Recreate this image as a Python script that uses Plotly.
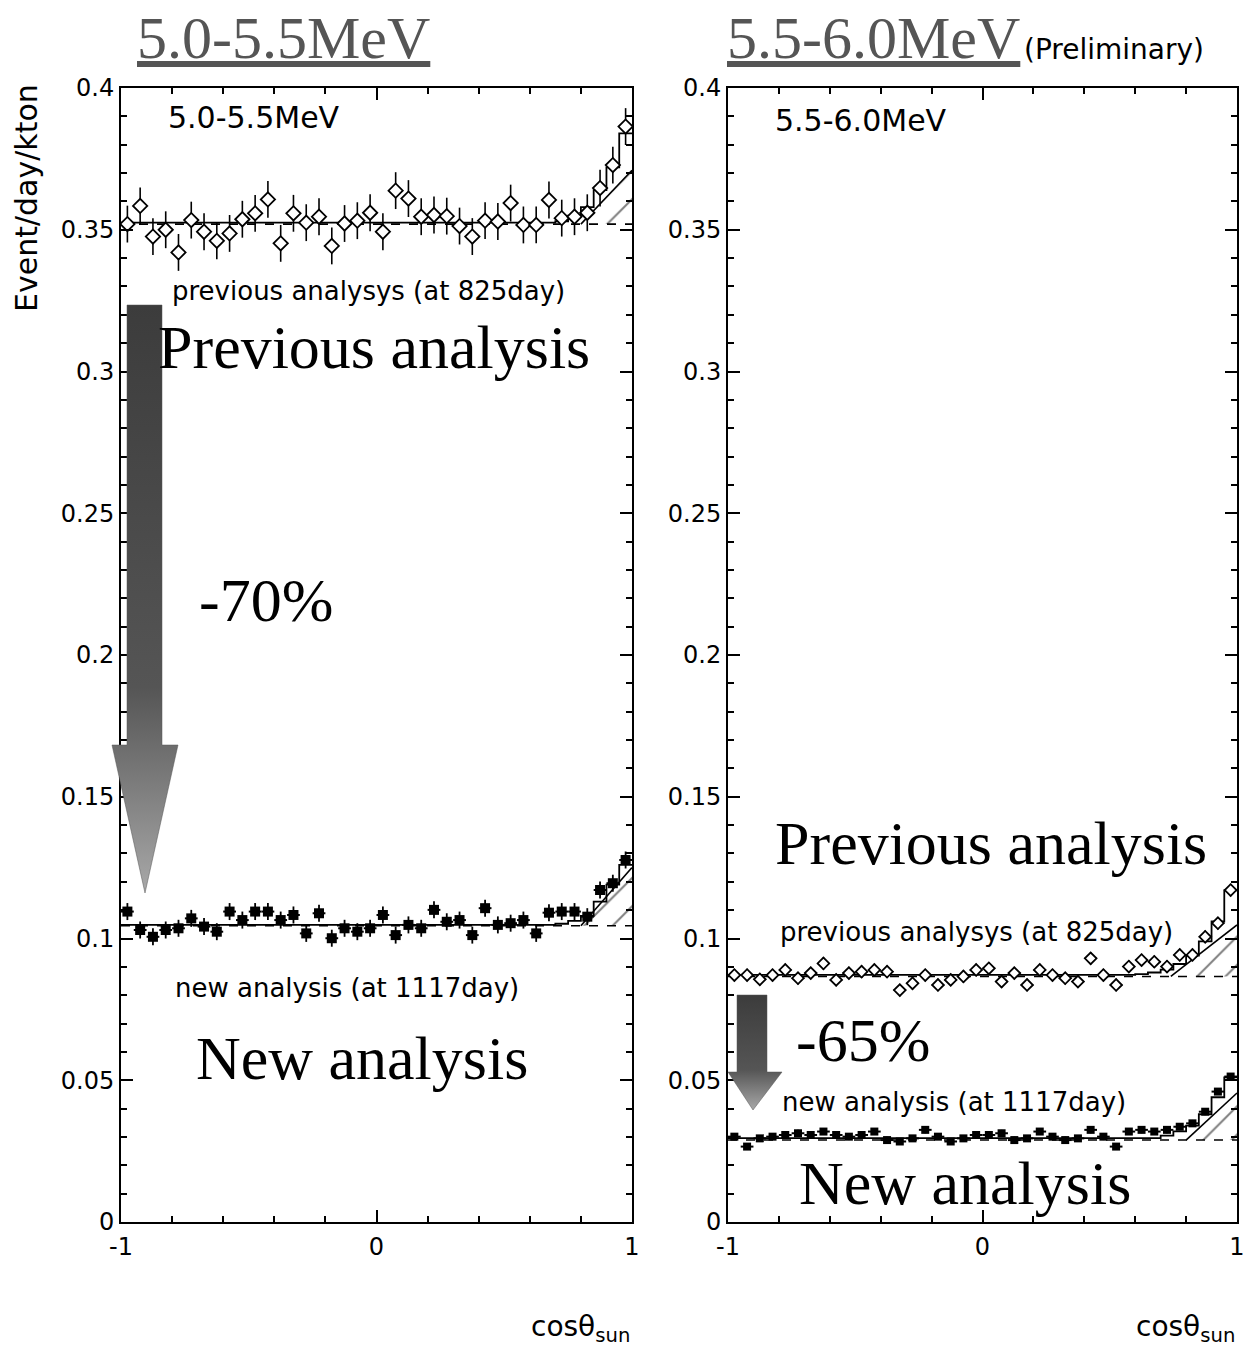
import plotly.graph_objects as go

# ---------------- data ----------------
cos_bins = [-0.975, -0.925, -0.875, -0.825, -0.775, -0.725, -0.675, -0.625, -0.575, -0.525,
            -0.475, -0.425, -0.375, -0.325, -0.275, -0.225, -0.175, -0.125, -0.075, -0.025,
            0.025, 0.075, 0.125, 0.175, 0.225, 0.275, 0.325, 0.375, 0.425, 0.475,
            0.525, 0.575, 0.625, 0.675, 0.725, 0.775, 0.825, 0.875, 0.925, 0.975]

left_prev = [0.3520, 0.3584, 0.3476, 0.3500, 0.3420, 0.3534, 0.3493, 0.3461, 0.3487, 0.3537,
             0.3558, 0.3607, 0.3452, 0.3558, 0.3525, 0.3546, 0.3443, 0.3522, 0.3532, 0.3560,
             0.3493, 0.3638, 0.3610, 0.3546, 0.3552, 0.3548, 0.3513, 0.3476, 0.3532, 0.3529,
             0.3594, 0.3517, 0.3517, 0.3605, 0.3541, 0.3546, 0.3560, 0.3647, 0.3728, 0.3864]
left_new = [0.1095, 0.1030, 0.1006, 0.1030, 0.1036, 0.1071, 0.1042, 0.1024, 0.1095, 0.1065,
            0.1095, 0.1095, 0.1065, 0.1083, 0.1018, 0.1089, 0.1001, 0.1036, 0.1024, 0.1036,
            0.1083, 0.1012, 0.1048, 0.1036, 0.1101, 0.1059, 0.1065, 0.1012, 0.1107, 0.1048,
            0.1054, 0.1065, 0.1018, 0.1091, 0.1095, 0.1095, 0.1077, 0.1171, 0.1195, 0.1277]
right_prev = [0.0871, 0.0871, 0.0856, 0.0871, 0.0889, 0.0860, 0.0878, 0.0912, 0.0854, 0.0878,
              0.0883, 0.0889, 0.0883, 0.0818, 0.0842, 0.0871, 0.0836, 0.0854, 0.0866, 0.0889,
              0.0895, 0.0848, 0.0878, 0.0836, 0.0889, 0.0871, 0.0860, 0.0848, 0.0930, 0.0871,
              0.0836, 0.0901, 0.0924, 0.0918, 0.0901, 0.0942, 0.0942, 0.1006, 0.1054, 0.1171]
right_new = [0.0301, 0.0266, 0.0295, 0.0301, 0.0307, 0.0313, 0.0307, 0.0319, 0.0307, 0.0301,
             0.0307, 0.0319, 0.0289, 0.0284, 0.0295, 0.0325, 0.0301, 0.0284, 0.0295, 0.0307,
             0.0307, 0.0313, 0.0289, 0.0295, 0.0319, 0.0301, 0.0289, 0.0295, 0.0325, 0.0301,
             0.0266, 0.0319, 0.0325, 0.0319, 0.0325, 0.0336, 0.0348, 0.0389, 0.0460, 0.0513]

# fitted total (background + solar peak), per bin
left_prev_fit = [0.3525] * 34 + [0.3530, 0.3550, 0.3580, 0.3640, 0.3720, 0.3840]
left_new_fit = [0.1048] * 34 + [0.1052, 0.1062, 0.1080, 0.1130, 0.1190, 0.1260]
right_prev_fit = [0.0872] * 32 + [0.0874, 0.0880, 0.0890, 0.0910, 0.0940, 0.0990, 0.1060, 0.1170]
right_new_fit = [0.0296] * 34 + [0.0305, 0.0320, 0.0340, 0.0380, 0.0440, 0.0510]

# flat background levels
left_prev_bg = 0.3520
left_new_bg = 0.1045
right_prev_bg = 0.0866
right_new_bg = 0.0289

# hatched expected-signal wedges: x start/end and top values
left_prev_hatch_x = [0.80, 1.0]
left_prev_hatch_top = [0.3520, 0.3710]
left_new_hatch_x = [0.80, 1.0]
left_new_hatch_top = [0.1045, 0.1250]
right_prev_hatch_x = [0.74, 1.0]
right_prev_hatch_top = [0.0866, 0.1048]
right_new_hatch_x = [0.80, 1.0]
right_new_hatch_top = [0.0289, 0.0455]

# statistical errors
left_prev_err = 0.0065
left_new_err = 0.003
right_prev_err = 0.0022
right_new_err = 0.0012
bin_half_width = 0.025

y_ticks = [0, 0.05, 0.1, 0.15, 0.2, 0.25, 0.3, 0.35, 0.4]
y_tick_text = ["0", "0.05", "0.1", "0.15", "0.2", "0.25", "0.3", "0.35", "0.4"]
x_ticks = [-1, 0, 1]
x_tick_text = ["-1", "0", "1"]

SANS = "DejaVu Sans"
SERIF = "Liberation Serif"

fig = go.Figure()


def add_panel(xa, ya, prev, prev_fit, prev_bg, prev_hx, prev_ht, prev_err, prev_sym, prev_size,
              new, new_fit, new_bg, new_hx, new_ht, new_err, new_size):
    for hx, ht, bg in ((prev_hx, prev_ht, prev_bg), (new_hx, new_ht, new_bg)):
        fig.add_trace(go.Scatter(x=hx, y=[bg, bg], mode="lines", line=dict(width=0),
                                 xaxis=xa, yaxis=ya, showlegend=False, hoverinfo="skip"))
        fig.add_trace(go.Scatter(x=hx, y=ht, mode="lines", line=dict(color="black", width=1.6),
                                 fill="tonexty", fillcolor="rgba(0,0,0,0)",
                                 fillpattern=dict(shape="/", size=20, solidity=0.1, fgcolor="black"),
                                 xaxis=xa, yaxis=ya, showlegend=False, hoverinfo="skip"))
    for fit, bg in ((prev_fit, prev_bg), (new_fit, new_bg)):
        fig.add_trace(go.Scatter(x=[-1, 1], y=[bg, bg], mode="lines",
                                 line=dict(color="black", width=1.6, dash="dash"),
                                 xaxis=xa, yaxis=ya, showlegend=False))
        fig.add_trace(go.Scatter(x=[-1] + cos_bins + [1], y=[fit[0]] + fit + [fit[-1]], mode="lines",
                                 line=dict(color="black", width=1.8, shape="hvh"),
                                 xaxis=xa, yaxis=ya, showlegend=False))
    fig.add_trace(go.Scatter(x=cos_bins, y=prev, mode="markers",
                             marker=dict(symbol=prev_sym, size=prev_size, color="white",
                                         line=dict(width=1.8, color="black")),
                             error_y=dict(type="constant", value=prev_err, color="black", thickness=1.6, width=0),
                             error_x=dict(type="constant", value=bin_half_width, color="black", thickness=1.2, width=0),
                             xaxis=xa, yaxis=ya, showlegend=False))
    fig.add_trace(go.Scatter(x=cos_bins, y=new, mode="markers",
                             marker=dict(symbol="square", size=new_size, color="black"),
                             error_y=dict(type="constant", value=new_err, color="black", thickness=1.8, width=0),
                             error_x=dict(type="constant", value=bin_half_width, color="black", thickness=2, width=0),
                             xaxis=xa, yaxis=ya, showlegend=False))


add_panel("x", "y", left_prev, left_prev_fit, left_prev_bg, left_prev_hatch_x, left_prev_hatch_top,
          left_prev_err, "diamond", 11,
          left_new, left_new_fit, left_new_bg, left_new_hatch_x, left_new_hatch_top, left_new_err, 10)
add_panel("x2", "y2", right_prev, right_prev_fit, right_prev_bg, right_prev_hatch_x, right_prev_hatch_top,
          right_prev_err, "diamond", 9,
          right_new, right_new_fit, right_new_bg, right_new_hatch_x, right_new_hatch_top, right_new_err, 8)

# ---- big gray arrows (decoration, in figure-pixel coordinates on an overlay axis) ----
arrow_left = dict(x=[127, 162, 162, 178, 145, 112, 127, 127], y=[305, 305, 745, 745, 893, 745, 745, 305])
arrow_right = dict(x=[737, 767, 767, 782, 753, 728, 737, 737], y=[995, 995, 1072, 1072, 1110, 1072, 1072, 995])
for arr, (y0, y1) in ((arrow_left, (305, 893)), (arrow_right, (995, 1110))):
    fig.add_trace(go.Scatter(x=arr["x"], y=arr["y"], mode="lines", line=dict(width=0.5, color="#555"),
                             fill="toself",
                             fillgradient=dict(type="vertical", start=y0, stop=y1,
                                               colorscale=[[0, "#3c3c3c"], [0.65, "#555555"], [1, "#a8a8a8"]]),
                             xaxis="x3", yaxis="y3", showlegend=False, hoverinfo="skip"))

W, H = 1247, 1350
ydom = [(H - 1222) / H, (H - 88) / H]
axis_common = dict(showline=True, linecolor="black", linewidth=2, mirror="allticks",
                   ticks="inside", ticklen=12, tickwidth=1.5, tickcolor="black",
                   showgrid=False, zeroline=False,
                   tickfont=dict(family=SANS, size=24, color="black"))

fig.update_layout(
    width=W, height=H, margin=dict(l=0, r=0, t=0, b=0, autoexpand=False),
    paper_bgcolor="white", plot_bgcolor="rgba(0,0,0,0)",
    xaxis=dict(domain=[121 / W, 632 / W], range=[-1, 1], tickvals=x_ticks, ticktext=x_tick_text,
               anchor="y", ticklabelstandoff=2,
               minor=dict(dtick=0.2, ticks="inside", ticklen=6, tickcolor="black"), **axis_common),
    yaxis=dict(domain=ydom, range=[0, 0.4], tickvals=y_ticks, ticktext=y_tick_text, anchor="x",
               minor=dict(dtick=0.01, ticks="inside", ticklen=6, tickcolor="black"), **axis_common),
    xaxis2=dict(domain=[728 / W, 1237 / W], range=[-1, 1], tickvals=x_ticks, ticktext=x_tick_text,
                anchor="y2", ticklabelstandoff=2,
                minor=dict(dtick=0.2, ticks="inside", ticklen=6, tickcolor="black"), **axis_common),
    yaxis2=dict(domain=ydom, range=[0, 0.4], tickvals=y_ticks, ticktext=y_tick_text, anchor="x2",
                minor=dict(dtick=0.01, ticks="inside", ticklen=6, tickcolor="black"), **axis_common),
    xaxis3=dict(domain=[0, 1], range=[0, W], visible=False, anchor="y3", fixedrange=True),
    yaxis3=dict(domain=[0, 1], range=[H, 0], visible=False, anchor="x3", fixedrange=True),
)


def ann(text, px, py, size, family=SANS, color="black", xanchor="left", angle=0, under=False):
    font = dict(family=family, size=size, color=color)
    if under:
        font["lineposition"] = "under"
    fig.add_annotation(text=text, x=px / W, y=1 - py / H, xref="paper", yref="paper",
                       xanchor=xanchor, yanchor="middle", showarrow=False, font=font, textangle=angle)


ann("5.0-5.5MeV", 283, 38, 60, SERIF, "#555555", "center", under=True)
ann("5.5-6.0MeV", 873, 38, 60, SERIF, "#555555", "center", under=True)
ann("(Preliminary)", 1022, 50, 28)
ann("5.0-5.5MeV", 166, 118, 30)
ann("5.5-6.0MeV", 773, 120, 30)
ann("previous analysys (at 825day)", 170, 291, 26)
ann("Previous analysis", 156, 347, 62, SERIF)
ann("-70%", 197, 600, 62, SERIF)
ann("new analysis (at 1117day)", 173, 988, 26)
ann("New analysis", 194, 1058, 62, SERIF)
ann("Previous analysis", 773, 843, 62, SERIF)
ann("previous analysys (at 825day)", 778, 932, 26)
ann("-65%", 794, 1040, 62, SERIF)
ann("new analysis (at 1117day)", 780, 1102, 26)
ann("New analysis", 797, 1183, 62, SERIF)
ann("Event/day/kton", 26, 198, 30, xanchor="center", angle=-90)
ann("cosθ<sub>sun</sub>", 580, 1328, 28, xanchor="center")
ann("cosθ<sub>sun</sub>", 1185, 1328, 28, xanchor="center")

fig.write_html("out.html")
